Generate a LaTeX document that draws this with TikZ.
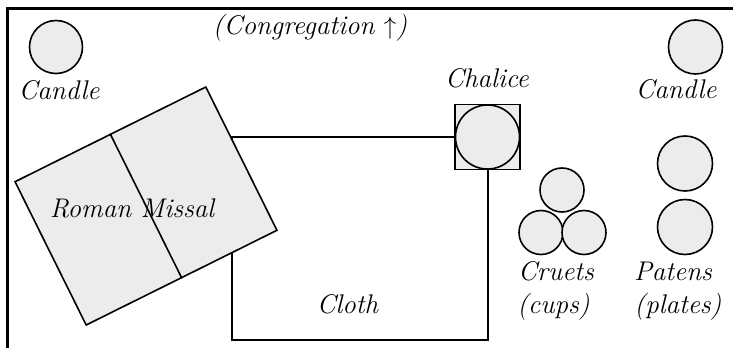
\documentclass[tikz,border=0pt]{standalone}

\begin{document}
\begin{tikzpicture}
  [x=1pt,y=-1pt,
   item/.style={draw,line width=1.6pt,fill=gray!15,inner sep=0pt},
   disc/.style={item,circle},
   lbl/.style={anchor=base,inner sep=0pt,font=\fontsize{27}{32}\selectfont\itshape}]
  \useasboundingbox (0,0) rectangle (733,358);
  \draw[line width=2.5pt] (7.5,348) -- (7.5,8.5) -- (733,8.5);

  \node[draw,line width=1.6pt,inner sep=0pt,minimum width=256pt,minimum height=203pt] (cloth) at (360,238.5) {};
  \node[item,minimum width=213pt,minimum height=160pt,rotate=26.4] (missal) at (146,206) {};
  \draw[line width=1.6pt] (missal.north) -- (missal.south);
  \node[item,minimum size=65pt] (chalbox) at (487.5,137) {};
  \node[disc,minimum size=64pt] (chalice) at (chalbox) {};

  \node[disc,minimum size=53pt] (candleL) at (56,47) {};
  \node[disc,minimum size=54pt] (candleR) at (695.5,47) {};
  \foreach \name/\x/\y in {cruet1/562/190,cruet2/541/232.5,cruet3/584/232.5}
    \node[disc,minimum size=44pt] (\name) at (\x,\y) {};
  \foreach \name/\y in {paten1/163.5,paten2/227}
    \node[disc,minimum size=55pt] (\name) at (685,\y) {};

  \node[lbl] (congr) at (310,35) {(Congregation $\uparrow$)};
  \node[lbl] (candleLt) at (59,100) {Candle};
  \node[lbl] (candleRt) at (676,99) {Candle};
  \node[lbl] (chalicet) at (487,88) {Chalice};
  \node[lbl] (missalt) at (132,217) {Roman Missal};
  \node[lbl] (clotht) at (347.5,313) {Cloth};
  \node[lbl] (cruetst) at (556,280) {Cruets};
  \node[lbl] (cupst) at (553.5,313) {(cups)};
  \node[lbl] (patenst) at (673,280) {Patens};
  \node[lbl] (platest) at (678,313) {(plates)};
\end{tikzpicture}
\end{document}
